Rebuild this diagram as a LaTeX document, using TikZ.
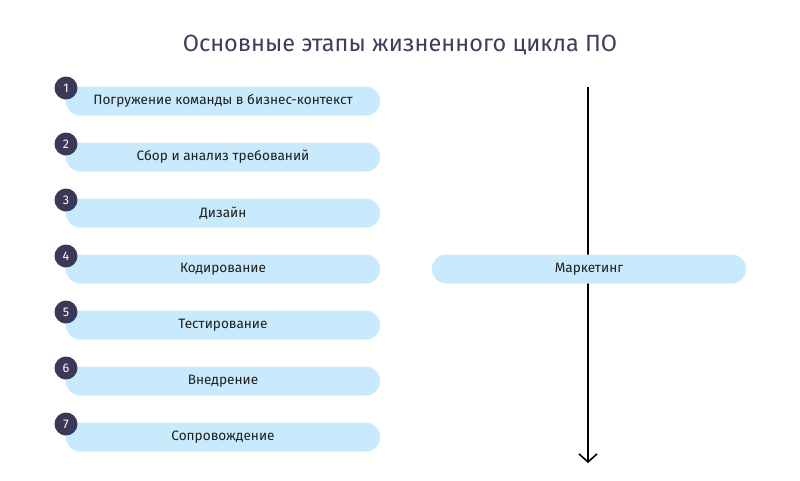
\documentclass[tikz,border=0pt]{standalone}
\usepackage{fontspec}
\setmainfont{Fira Sans}
\usetikzlibrary{arrows.meta}
\definecolor{pillc}{HTML}{C8EAFC}
\definecolor{navy}{HTML}{3A3A58}
\definecolor{titlec}{HTML}{3D3D5C}
\definecolor{textc}{HTML}{1E1E1E}
\tikzset{
  pill/.style={fill=pillc, rounded corners=14pt, minimum width=314pt, minimum height=29pt, inner sep=0pt, font=\fontsize{13.6}{16}\selectfont, text=textc},
  numc/.style={circle, fill=navy, minimum size=23pt, inner sep=0pt, text=white, font=\fontsize{12.5}{14}\selectfont}
}
\begin{document}
\begin{tikzpicture}[x=1pt,y=-1pt]
\useasboundingbox (0,0) rectangle (800,480);
\node[font=\fontsize{23.5}{28}\selectfont, text=titlec] (title) at (400,45) {Основные этапы жизненного цикла ПО};
\coordinate (top) at (588,87);
\coordinate (bot) at (588,463);
\draw[line width=1.6pt, -{Straight Barb[length=8pt,width=18pt,line width=1.6pt]}] (top) -- (bot);
\node[pill] (p1) at (223,101) {Погружение команды в бизнес-контекст};
\node[pill] (p2) at (223,157) {Сбор и анализ требований};
\node[pill] (p3) at (223,213) {Дизайн};
\node[pill] (p4) at (223,269) {Кодирование};
\node[pill] (p5) at (223,325) {Тестирование};
\node[pill] (p6) at (223,381) {Внедрение};
\node[pill] (p7) at (223,437) {Сопровождение};
\node[pill] (m) at (589,269) {Маркетинг};
\foreach \i/\y in {1/88,2/144,3/200,4/256,5/312,6/368,7/424}{
  \node[numc] (n\i) at (66,\y) {\i};
}
\end{tikzpicture}
\end{document}
